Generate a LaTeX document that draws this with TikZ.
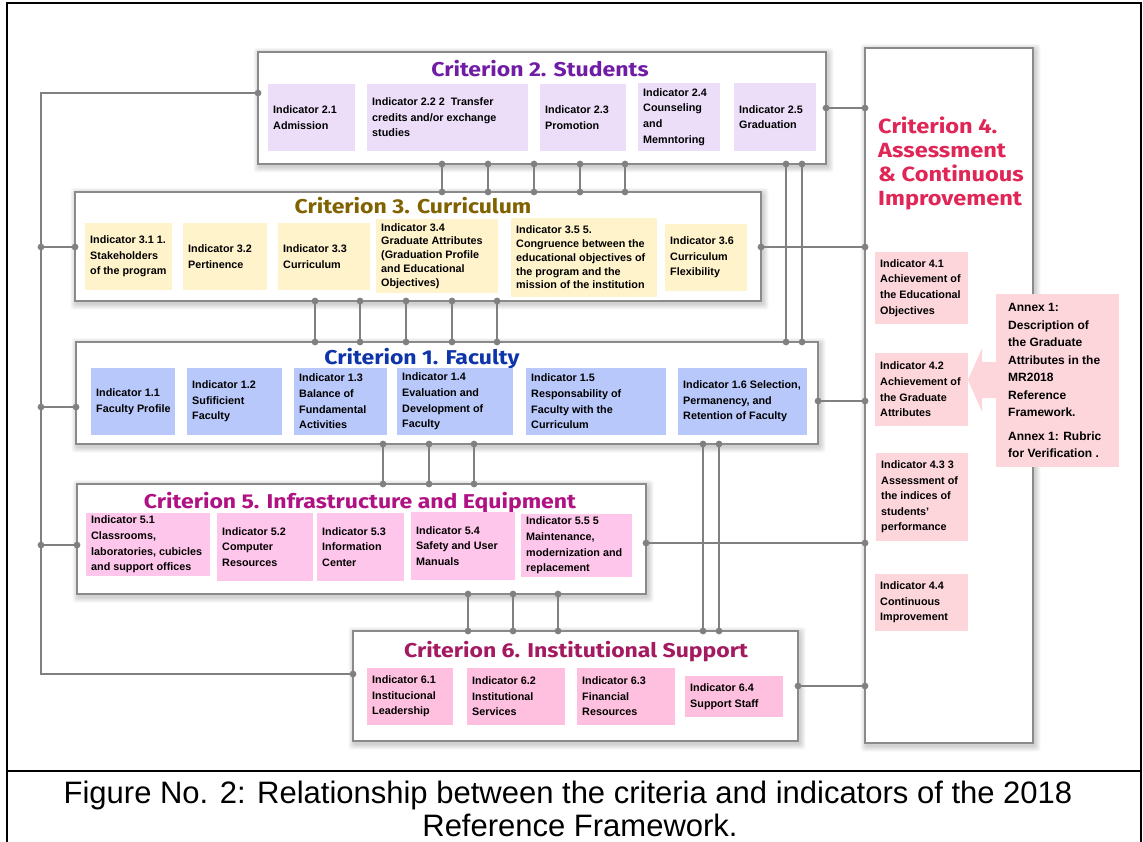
\documentclass[tikz,border=0pt]{standalone}
\usepackage{fontspec}
\setmainfont{Liberation Sans}
\newfontfamily\ttlfont{Fira Sans}[FakeStretch=1.15]
\usetikzlibrary{arrows.meta,calc,backgrounds}
\definecolor{boxgray}{RGB}{138,138,138}
\definecolor{linegray}{RGB}{128,128,128}
\definecolor{ttwo}{RGB}{112,28,165}
\definecolor{tthree}{RGB}{128,98,0}
\definecolor{tone}{RGB}{14,52,170}
\definecolor{tfive}{RGB}{176,18,132}
\definecolor{tsix}{RGB}{164,26,96}
\definecolor{tfour}{RGB}{224,38,86}
\definecolor{indtwo}{RGB}{236,222,249}
\definecolor{indthree}{RGB}{255,243,204}
\definecolor{indone}{RGB}{184,200,250}
\definecolor{indfive}{RGB}{255,198,236}
\definecolor{indsix}{RGB}{255,192,224}
\definecolor{indfour}{RGB}{253,214,220}
\newcommand\indfont{\fontsize{10.8}{15.6}\selectfont\bfseries}
\newcommand\indtight{\fontsize{10.8}{13.8}\selectfont\bfseries}
\newcommand\annexfont{\fontsize{12}{17.5}\selectfont\bfseries}
\newcommand\softshadow[1]{%
  \foreach \s in {1,...,6}{%
    \fill[black,opacity=0.03,rounded corners=3pt]
      ($(#1.north west)+(-\s+1.5,-\s+2)$) rectangle ($(#1.south east)+(\s+1.5,\s+2.5)$);}}
\tikzset{
  critbox/.style={draw=boxgray, line width=1.8pt, fill=white, anchor=north west,
    inner sep=0pt, outer sep=0pt},
  indbox/.style n args={3}{anchor=north west, inner sep=0pt, outer sep=0pt,
    fill=#1, minimum width=#2pt, minimum height=#3pt},
  indtext/.style={anchor=west, align=left, inner xsep=5pt, inner ysep=0pt, font=\indfont},
  ttl/.style={anchor=base, inner sep=0pt, font=\ttlfont\bfseries\fontsize{20}{24}\selectfont},
  conn/.style={draw=linegray, line width=1.7pt,
    {Circle[length=6.6pt]}-{Circle[length=6.6pt]},
    shorten <=-3.3pt, shorten >=-3.3pt},
}
\begin{document}
\begin{tikzpicture}[x=1pt,y=-1pt]
\useasboundingbox (0,0) rectangle (1143,842);

% ---------- criterion boxes ----------
\node[critbox, minimum width=568pt, minimum height=112pt] (c2) at (258,52) {};
\node[critbox, minimum width=686pt, minimum height=109pt] (c3) at (75,192) {};
\node[critbox, minimum width=742pt, minimum height=102pt] (c1) at (76,342) {};
\node[critbox, minimum width=569pt, minimum height=110pt] (c5) at (77,484) {};
\node[critbox, minimum width=445pt, minimum height=110pt] (c6) at (353,631) {};
\node[critbox, minimum width=168pt, minimum height=695pt] (c4) at (865,48) {};

% ---------- titles ----------
\node[ttl, text=ttwo] (t2) at (540,77) {Criterion 2. Students};
\node[ttl, text=tthree] (t3) at (413,214) {Criterion 3. Curriculum};
\node[ttl, text=tone] (t1) at (422,364) {Criterion 1. Faculty};
\node[ttl, text=tfive] (t5) at (360,508) {Criterion 5. Infrastructure and Equipment};
\node[ttl, text=tsix] (t6) at (576,657) {Criterion 6. Institutional Support};
\node[anchor=base west, align=left, inner sep=0pt, text=tfour,
  font=\ttlfont\bfseries\fontsize{20.5}{24.3}\selectfont] (t4) at (878,206)
  {Criterion 4.\\Assessment\\\& Continuous\\Improvement};

% ---------- criterion 2 indicators ----------
\node[indbox={indtwo}{87}{67}, label={[indtext]west:{Indicator 2.1\\Admission}}] (i21) at (268,84) {};
\node[indbox={indtwo}{161}{67}, label={[indtext]west:{Indicator 2.2 2 \ Transfer\\credits and/or exchange\\studies}}] (i22) at (367,84) {};
\node[indbox={indtwo}{86}{67}, label={[indtext]west:{Indicator 2.3\\Promotion}}] (i23) at (540,84) {};
\node[indbox={indtwo}{82}{68}, label={[indtext]west:{Indicator 2.4\\Counseling\\and\\Memntoring}}] (i24) at (638,83) {};
\node[indbox={indtwo}{82}{68}, label={[indtext]west:{Indicator 2.5\\Graduation}}] (i25) at (734,83) {};

% ---------- criterion 3 indicators ----------
\node[indbox={indthree}{87}{67}, label={[indtext]west:{Indicator 3.1 1.\\Stakeholders\\of the program}}] (i31) at (85,223) {};
\node[indbox={indthree}{84}{67}, label={[indtext]west:{Indicator 3.2\\Pertinence}}] (i32) at (183,223) {};
\node[indbox={indthree}{92}{67}, label={[indtext]west:{Indicator 3.3\\Curriculum}}] (i33) at (278,223) {};
\node[indbox={indthree}{122}{74}, label={[indtext, font=\indtight]west:{Indicator 3.4\\Graduate Attributes\\(Graduation Profile\\and Educational\\Objectives)}}] (i34) at (376,219) {};
\node[indbox={indthree}{146}{79}, label={[indtext, font=\indtight]west:{Indicator 3.5 5.\\Congruence between the\\educational objectives of\\the program and the\\mission of the institution}}] (i35) at (511,218) {};
\node[indbox={indthree}{82}{67}, label={[indtext]west:{Indicator 3.6\\Curriculum\\Flexibility}}] (i36) at (665,224) {};

% ---------- criterion 1 indicators ----------
\node[indbox={indone}{84}{67}, label={[indtext]west:{Indicator 1.1\\Faculty Profile}}] (i11) at (91,368) {};
\node[indbox={indone}{95}{67}, label={[indtext]west:{Indicator 1.2\\Sufificient\\Faculty}}] (i12) at (187,368) {};
\node[indbox={indone}{93}{67}, label={[indtext]west:{Indicator 1.3\\Balance of\\Fundamental\\Activities}}] (i13) at (294,368) {};
\node[indbox={indone}{116}{67}, label={[indtext]west:{Indicator 1.4\\Evaluation and\\Development of\\Faculty}}] (i14) at (397,368) {};
\node[indbox={indone}{140}{67}, label={[indtext]west:{Indicator 1.5\\Responsability of\\Faculty with the\\Curriculum}}] (i15) at (526,368) {};
\node[indbox={indone}{129}{67}, label={[indtext]west:{Indicator 1.6 Selection,\\Permanency, and\\Retention of Faculty}}] (i16) at (678,368) {};

% ---------- criterion 5 indicators ----------
\node[indbox={indfive}{124}{63}, label={[indtext]west:{Indicator 5.1\\Classrooms,\\laboratories, cubicles\\and support offices}}] (i51) at (86,513) {};
\node[indbox={indfive}{96}{68}, label={[indtext]west:{Indicator 5.2\\Computer\\Resources}}] (i52) at (217,513) {};
\node[indbox={indfive}{87}{68}, label={[indtext]west:{Indicator 5.3\\Information\\Center}}] (i53) at (317,513) {};
\node[indbox={indfive}{104}{68}, label={[indtext]west:{Indicator 5.4\\Safety and User\\Manuals}}] (i54) at (411,512) {};
\node[indbox={indfive}{111}{63}, label={[indtext]west:{Indicator 5.5 5\\Maintenance,\\modernization and\\replacement}}] (i55) at (521,514) {};

% ---------- criterion 6 indicators ----------
\node[indbox={indsix}{86}{57}, label={[indtext]west:{Indicator 6.1\\Institucional\\Leadership}}] (i61) at (367,668) {};
\node[indbox={indsix}{98}{57}, label={[indtext]west:{Indicator 6.2\\Institutional\\Services}}] (i62) at (467,668) {};
\node[indbox={indsix}{98}{57}, label={[indtext]west:{Indicator 6.3\\Financial\\Resources}}] (i63) at (577,668) {};
\node[indbox={indsix}{98}{41}, label={[indtext]west:{Indicator 6.4\\Support Staff}}] (i64) at (685,676) {};

% ---------- criterion 4 indicators ----------
\node[indbox={indfour}{93}{72}, label={[indtext]west:{Indicator 4.1\\Achievement of\\the Educational\\Objectives}}] (i41) at (875,252) {};
\node[indbox={indfour}{93}{73}, label={[indtext]west:{Indicator 4.2\\Achievement of\\the Graduate\\Attributes}}] (i42) at (875,353) {};
\node[indbox={indfour}{92}{88}, label={[indtext]west:{Indicator 4.3 3\\Assessment of\\the indices of\\students'\\performance}}] (i43) at (876,453) {};
\node[indbox={indfour}{93}{57}, label={[indtext]west:{Indicator 4.4\\Continuous\\Improvement}}] (i44) at (875,574) {};

% ---------- annex ----------
\node[indbox={indfour}{123}{173}, label={[indtext, font=\annexfont, inner xsep=12pt]west:{Annex 1:\\Description of\\the Graduate\\Attributes in the\\MR2018\\Reference\\Framework.\\[6pt]Annex 1: Rubric\\for Verification .}}] (annex) at (996,294) {};
\fill[indfour] (annex.west |- 0,362) -- (982,362) -- (982,348) -- (i42.east |- 0,380)
  -- (982,412) -- (982,398) -- (annex.west |- 0,398) -- cycle;

% ---------- connectors ----------
\coordinate (tk) at (41,0);
\draw[conn] (c2.west |- 0,93) -| (tk |- 0,674) -- (c6.west |- 0,674);
\draw[conn] (c3.west |- 0,247) -- (tk |- 0,247);
\draw[conn] (c1.west |- 0,407) -- (tk |- 0,407);
\draw[conn] (c5.west |- 0,545) -- (tk |- 0,545);

\draw[conn] (c2.east |- 0,108) -- (c4.west |- 0,108);
\draw[conn] (c3.east |- 0,247) -- (c4.west |- 0,247);
\draw[conn] (c1.east |- 0,401) -- (c4.west |- 0,401);
\draw[conn] (c5.east |- 0,543) -- (c4.west |- 0,543);
\draw[conn] (c6.east |- 0,686) -- (c4.west |- 0,686);

\foreach \x in {442,488,534,580,625} \draw[conn] (c2.south -| \x,0) -- (c3.north -| \x,0);
\foreach \x in {786,802} \draw[conn] (c2.south -| \x,0) -- (c1.north -| \x,0);
\foreach \x in {315,360,406,452,497} \draw[conn] (c3.south -| \x,0) -- (c1.north -| \x,0);
\foreach \x in {383,429,474} \draw[conn] (c1.south -| \x,0) -- (c5.north -| \x,0);
\foreach \x in {468,513,558} \draw[conn] (c5.south -| \x,0) -- (c6.north -| \x,0);
\foreach \x in {703,719} \draw[conn] (c1.south -| \x,0) -- (c6.north -| \x,0);

% ---------- frame and caption ----------
\draw[black, line width=2pt] (7,842) -- (7,3) -- (1141,3) -- (1141,842);
\draw[black, line width=2pt] (7,771) -- (1141,771);
\node[anchor=base, inner sep=0pt, font=\fontsize{31}{34}\selectfont] (cap1) at (568,803)
  {Figure No. 2: Relationship between the criteria and indicators of the 2018};
\node[anchor=base, inner sep=0pt, font=\fontsize{31}{34}\selectfont] (cap2) at (580,836)
  {Reference Framework.};

% ---------- shadows ----------
\begin{scope}[on background layer]
  \fill[white] (0,0) rectangle (1143,842);
  \softshadow{c2}\softshadow{c3}\softshadow{c1}\softshadow{c5}\softshadow{c6}\softshadow{c4}
\end{scope}
\end{tikzpicture}
\end{document}
